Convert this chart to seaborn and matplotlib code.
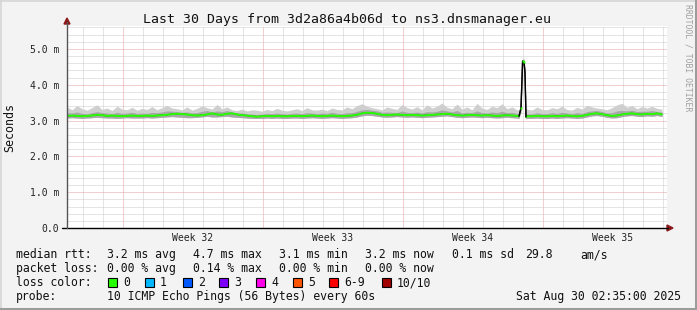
import numpy as np
import matplotlib
matplotlib.use("Agg")
import matplotlib.pyplot as plt
from matplotlib.patches import Rectangle, Polygon
from matplotlib.lines import Line2D
import seaborn as sns

# ---------------- data ----------------
days = [0.0, 0.25, 0.5, 0.75, 1.0, 1.25, 1.5, 1.75, 2.0, 2.25, 2.5, 2.75, 3.0, 3.25, 3.5,
        3.75, 4.0, 4.25, 4.5, 4.75, 5.0, 5.25, 5.5, 5.75, 6.0, 6.25, 6.5, 6.75, 7.0, 7.25,
        7.5, 7.75, 8.0, 8.25, 8.5, 8.75, 9.0, 9.25, 9.5, 9.75, 10.0, 10.25, 10.5, 10.75, 11.0,
        11.25, 11.5, 11.75, 12.0, 12.25, 12.5, 12.75, 13.0, 13.25, 13.5, 13.75, 14.0, 14.25, 14.5, 14.75,
        15.0, 15.25, 15.5, 15.75, 16.0, 16.25, 16.5, 16.75, 17.0, 17.25, 17.5, 17.75, 18.0, 18.25, 18.5,
        18.75, 19.0, 19.25, 19.5, 19.75, 20.0, 20.25, 20.5, 20.75, 21.0, 21.25, 21.5, 21.75, 22.0, 22.25, 22.5,
        22.6, 22.7, 22.78, 22.85, 22.9, 22.95,
        23.0, 23.25, 23.5, 23.75, 24.0, 24.25, 24.5, 24.75, 25.0, 25.25, 25.5, 25.75, 26.0, 26.25, 26.5,
        26.75, 27.0, 27.25, 27.5, 27.75, 28.0, 28.25, 28.5, 28.75, 29.0, 29.25, 29.5, 29.75]

median_ms = [3.13, 3.14, 3.13, 3.12, 3.13, 3.14, 3.16, 3.15, 3.13, 3.14, 3.13, 3.12, 3.13, 3.14, 3.13,
             3.13, 3.14, 3.13, 3.14, 3.15, 3.16, 3.18, 3.19, 3.18, 3.17, 3.15, 3.14, 3.15, 3.17, 3.20,
             3.17, 3.16, 3.19, 3.20, 3.17, 3.15, 3.14, 3.12, 3.11, 3.12, 3.13, 3.12, 3.13, 3.12, 3.12,
             3.13, 3.13, 3.12, 3.13, 3.14, 3.13, 3.12, 3.13, 3.14, 3.13, 3.12, 3.13, 3.14, 3.16, 3.20,
             3.22, 3.21, 3.19, 3.16, 3.15, 3.16, 3.17, 3.16, 3.15, 3.16, 3.15, 3.14, 3.15, 3.16, 3.17,
             3.18, 3.19, 3.17, 3.15, 3.14, 3.15, 3.16, 3.15, 3.14, 3.15, 3.14, 3.13, 3.14, 3.15, 3.14, 3.13,
             3.12, 3.35, 4.66, 4.64, 4.33, 3.10,
             3.12, 3.12, 3.13, 3.12, 3.12, 3.13, 3.12, 3.13, 3.14, 3.13, 3.12, 3.13, 3.16, 3.19, 3.20,
             3.18, 3.15, 3.13, 3.14, 3.17, 3.19, 3.20, 3.18, 3.17, 3.19, 3.18, 3.20, 3.17]

smoke_lo = [3.07, 3.08, 3.07, 3.06, 3.07, 3.08, 3.09, 3.08, 3.07, 3.07, 3.06, 3.07, 3.08, 3.07, 3.07,
            3.07, 3.08, 3.07, 3.08, 3.09, 3.10, 3.11, 3.10, 3.09, 3.08, 3.08, 3.09, 3.10, 3.12, 3.10,
            3.10, 3.11, 3.12, 3.10, 3.09, 3.08, 3.07, 3.06, 3.06, 3.06, 3.07, 3.06, 3.07, 3.06, 3.06,
            3.07, 3.07, 3.06, 3.07, 3.08, 3.07, 3.06, 3.07, 3.08, 3.07, 3.06, 3.07, 3.08, 3.10, 3.13,
            3.15, 3.14, 3.12, 3.10, 3.09, 3.10, 3.11, 3.10, 3.09, 3.10, 3.09, 3.08, 3.09, 3.10, 3.11,
            3.12, 3.13, 3.11, 3.09, 3.08, 3.09, 3.10, 3.09, 3.08, 3.09, 3.08, 3.07, 3.08, 3.09, 3.08, 3.07,
            3.06, 3.25, 4.55, 4.55, 4.22, 3.04,
            3.06, 3.06, 3.07, 3.06, 3.06, 3.07, 3.06, 3.07, 3.08, 3.07, 3.06, 3.07, 3.10, 3.13, 3.14,
            3.12, 3.09, 3.07, 3.08, 3.11, 3.13, 3.14, 3.12, 3.11, 3.13, 3.12, 3.14, 3.11]

smoke_mid = [3.22, 3.21, 3.24, 3.20, 3.19, 3.22, 3.25, 3.22, 3.21, 3.19, 3.23, 3.20, 3.21, 3.23, 3.20,
             3.21, 3.20, 3.23, 3.22, 3.24, 3.27, 3.26, 3.25, 3.23, 3.24, 3.21, 3.22, 3.26, 3.28, 3.24,
             3.27, 3.25, 3.28, 3.24, 3.22, 3.21, 3.19, 3.18, 3.17, 3.18, 3.20, 3.19, 3.21, 3.19, 3.18,
             3.20, 3.21, 3.19, 3.22, 3.21, 3.19, 3.21, 3.20, 3.23, 3.20, 3.19, 3.22, 3.22, 3.26, 3.30,
             3.31, 3.29, 3.27, 3.23, 3.24, 3.23, 3.22, 3.27, 3.23, 3.22, 3.24, 3.21, 3.25, 3.24, 3.26,
             3.30, 3.27, 3.24, 3.28, 3.21, 3.23, 3.22, 3.27, 3.22, 3.21, 3.24, 3.22, 3.26, 3.22, 3.23, 3.20,
             3.18, 3.45, 4.70, 4.69, 4.40, 3.18,
             3.19, 3.18, 3.22, 3.19, 3.19, 3.22, 3.20, 3.23, 3.21, 3.19, 3.22, 3.20, 3.25, 3.27, 3.28,
             3.25, 3.21, 3.22, 3.27, 3.28, 3.27, 3.29, 3.25, 3.26, 3.26, 3.28, 3.25, 3.24]

smoke_hi = [3.38, 3.30, 3.42, 3.33, 3.29, 3.36, 3.44, 3.31, 3.35, 3.28, 3.40, 3.32, 3.30, 3.37, 3.29,
            3.34, 3.31, 3.39, 3.30, 3.36, 3.42, 3.35, 3.33, 3.30, 3.38, 3.29, 3.34, 3.41, 3.36, 3.32,
            3.45, 3.33, 3.38, 3.30, 3.28, 3.32, 3.27, 3.30, 3.29, 3.26, 3.31, 3.28, 3.34, 3.29, 3.27,
            3.30, 3.33, 3.28, 3.36, 3.30, 3.29, 3.32, 3.28, 3.35, 3.31, 3.30, 3.38, 3.33, 3.42, 3.47,
            3.40, 3.36, 3.33, 3.30, 3.38, 3.34, 3.31, 3.45, 3.36, 3.32, 3.39, 3.30, 3.44, 3.35, 3.40,
            3.49, 3.37, 3.33, 3.46, 3.32, 3.38, 3.30, 3.48, 3.35, 3.31, 3.40, 3.36, 3.47, 3.33, 3.38, 3.30,
            3.30, 3.60, 4.75, 4.74, 4.50, 3.30,
            3.32, 3.29, 3.38, 3.31, 3.30, 3.36, 3.33, 3.40, 3.31, 3.29, 3.37, 3.32, 3.43, 3.38, 3.35,
            3.33, 3.30, 3.36, 3.44, 3.48, 3.37, 3.42, 3.33, 3.39, 3.35, 3.40, 3.34, 3.32]

y_ticks = [0, 1, 2, 3, 4, 5]
y_tick_labels = ["0.0", "1.0 m", "2.0 m", "3.0 m", "4.0 m", "5.0 m"]
week_pos = [6.3, 13.3, 20.3, 27.3]
week_labels = ["Week 32", "Week 33", "Week 34", "Week 35"]

loss_labels = ["0", "1", "2", "3", "4", "5", "6-9", "10/10"]
loss_colors = ["#26ff00", "#00b8ff", "#0059ff", "#7e00ff", "#ff00ea", "#ff5500", "#ff0000", "#a10000"]

rtt_stats = ["3.2 ms avg", "4.7 ms max", "3.1 ms min", "3.2 ms now", "0.1 ms sd", "29.8", "am/s"]
loss_stats = ["0.00 % avg", "0.14 % max", "0.00 % min", "0.00 % now"]

title = "Last 30 Days from 3d2a86a4b06d to ns3.dnsmanager.eu"
probe_text = "10 ICMP Echo Pings (56 Bytes) every 60s"
date_text = "Sat Aug 30 02:35:00 2025"

# ---------------- figure ----------------
sns.set_style("white")
plt.rcParams["font.family"] = ["DejaVu Sans Mono"]

W, H = 697, 310
fig = plt.figure(figsize=(W / 100, H / 100), dpi=100, facecolor="#f3f3f3")

def fx(px):
    return px / W

def fy(py):
    return 1 - py / H

# frame
fig.add_artist(Line2D([0, 1], [fy(0.5), fy(0.5)], transform=fig.transFigure, color="#d6d6d6", lw=1.2))
fig.add_artist(Line2D([fx(0.5), fx(0.5)], [0, 1], transform=fig.transFigure, color="#d6d6d6", lw=1.2))
fig.add_artist(Line2D([0, 1], [fy(308.5), fy(308.5)], transform=fig.transFigure, color="#9c9c9c", lw=2.2))
fig.add_artist(Line2D([fx(695.5), fx(695.5)], [0, 1], transform=fig.transFigure, color="#9c9c9c", lw=2.2))

x0, x1, ytop, ybot = 67, 667, 26, 228
ax = fig.add_axes([fx(x0), fy(ybot), (x1 - x0) / W, (ybot - ytop) / H])
ax.set_facecolor("white")
ax.set_xlim(0, 30)
ax.set_ylim(0, 5.64)
for s in ax.spines.values():
    s.set_visible(False)

# grid
dot = (0, (1, 1))
minor_c = "#cbcbcb"
major_c = "#e6a0a0"
for d in np.arange(0.8, 30, 1.0):
    is_major = abs(((d - 2.8) / 7.0) - round((d - 2.8) / 7.0)) < 1e-6
    ax.axvline(d, color=major_c if is_major else minor_c, lw=0.72, ls=dot, zorder=1)
for v in np.arange(0.2, 5.64, 0.2):
    is_major = abs(v - round(v)) < 1e-6
    ax.axhline(v, color=major_c if is_major else minor_c, lw=0.72, ls=dot, zorder=1)

t = np.array(days)
med = np.array(median_ms)
lo = np.array(smoke_lo)
mid = np.array(smoke_mid)
hi = np.array(smoke_hi)

ax.fill_between(t, lo, hi, color="#cfcfcf", lw=0, zorder=2)
ax.fill_between(t, lo, mid, color="#a8a8a8", lw=0, zorder=3)

# median line: thin dark base, green (loss 0) on top
sns.lineplot(x=t, y=med, ax=ax, color="#333333", lw=0.9, zorder=4, estimator=None, sort=False)
sns.lineplot(x=t[:92], y=med[:92], ax=ax, color="#26ff00", lw=1.4, zorder=5, estimator=None, sort=False)
sns.lineplot(x=t[96:], y=med[96:], ax=ax, color="#26ff00", lw=1.4, zorder=5, estimator=None, sort=False)
sns.lineplot(x=t[91:97], y=med[91:97], ax=ax, color="black", lw=1.0, zorder=6, estimator=None, sort=False)
ax.plot(t[92:95], med[92:95], ls="none", marker="s", ms=1.6, mec="none", mfc="#26ff00", zorder=7)

ax.set_yticks(y_ticks)
ax.set_yticklabels(y_tick_labels)
ax.set_xticks(week_pos)
ax.set_xticklabels(week_labels)
ax.tick_params(axis="y", length=0, pad=5.5, labelsize=7, colors="#222222")
ax.tick_params(axis="x", length=0, pad=3.5, labelsize=7, colors="#222222")
ax.set_xlabel("")
ax.set_ylabel("")

# axes lines and arrows
fig.add_artist(Line2D([fx(62), fx(668)], [fy(228), fy(228)], transform=fig.transFigure, color="black", lw=1.0))
fig.add_artist(Line2D([fx(67), fx(67)], [fy(228), fy(22)], transform=fig.transFigure, color="#555555", lw=1.0))
fig.add_artist(Polygon([[fx(64), fy(24)], [fx(70), fy(24)], [fx(67), fy(18)]], closed=True,
                       transform=fig.transFigure, color="#8b1a1a"))
fig.add_artist(Polygon([[fx(667), fy(225)], [fx(667), fy(231)], [fx(673), fy(228)]], closed=True,
                       transform=fig.transFigure, color="#8b1a1a"))

# texts
fig.text(fx(347), fy(23.5), title, ha="center", va="baseline", fontsize=9.5, color="#111111")
fig.text(fx(10), fy(127), "Seconds", rotation=90, ha="center", va="center", fontsize=8.4, color="#111111")
fig.text(fx(688), fy(4), "RRDTOOL / TOBI OETIKER", rotation=270, ha="center", va="top",
         fontsize=5.9, color="#a0a0a0")

fs = 8.3
row_base = [258, 272, 286, 300]
col_x = [107, 193, 279, 365, 452, 525, 580]

def legend_text(px, py, s, ha="left"):
    fig.text(fx(px), fy(py), s, ha=ha, va="baseline", fontsize=fs, color="#111111")

legend_text(16, row_base[0], "median rtt:")
for xx, s in zip(col_x, rtt_stats):
    legend_text(xx, row_base[0], s)
legend_text(16, row_base[1], "packet loss:")
for xx, s in zip(col_x, loss_stats):
    legend_text(xx, row_base[1], s)
legend_text(16, row_base[2], "loss color:")
sq_x = [108, 145, 183, 219, 256, 293, 329, 382]
for xx, lab, c in zip(sq_x, loss_labels, loss_colors):
    fig.add_artist(Rectangle((fx(xx), fy(286.5)), 9 / W, 9 / H, transform=fig.transFigure,
                             facecolor=c, edgecolor="black", lw=0.8))
    legend_text(xx + 15, row_base[2], lab)
legend_text(16, row_base[3], "probe:")
legend_text(107, row_base[3], probe_text)
legend_text(681, row_base[3], date_text, ha="right")

fig.savefig("out.png", dpi=100, facecolor=fig.get_facecolor())
